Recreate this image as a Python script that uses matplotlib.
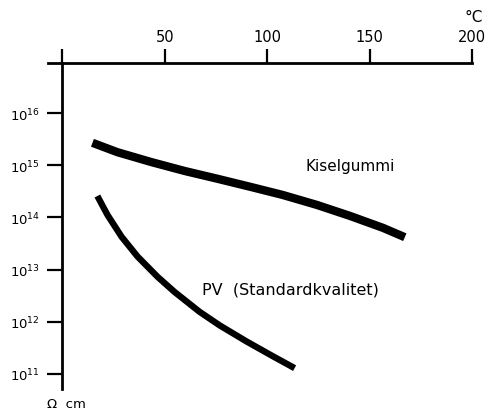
import matplotlib.pyplot as plt
import numpy as np

# temperature (degC) and log10 resistivity (ohm cm)
kisel_temp = [14.7, 26.9, 43.5, 59.7, 75.8, 92.4, 107.6, 124.2, 140.3, 156.5, 167.2]
kisel_log = [15.43, 15.25, 15.06, 14.89, 14.74, 14.58, 14.43, 14.24, 14.03, 13.80, 13.62]

pv_temp = [17.1, 22.0, 28.9, 36.7, 46.5, 54.8, 67.0, 76.8, 90.0, 102.7, 113.4]
pv_log = [14.41, 14.05, 13.63, 13.25, 12.86, 12.57, 12.19, 11.93, 11.62, 11.34, 11.11]

xticks = [0, 50, 100, 150, 200]
xlabels = ["", "50", "100", "150", "200"]
yexp = [11, 12, 13, 14, 15, 16]

fig = plt.figure(figsize=(4.86, 4.14), dpi=100)
ax = fig.add_axes([48 / 486, 1 - 390 / 414, (472 - 48) / 486, (390 - 64) / 414])

ax.plot(kisel_temp, 10 ** np.array(kisel_log), color="black", lw=6,
        solid_capstyle="butt", solid_joinstyle="round")
ax.plot(pv_temp, 10 ** np.array(pv_log), color="black", lw=4.6,
        solid_capstyle="butt", solid_joinstyle="round")

ax.set_yscale("log")
ax.set_xlim(-7, 200)
ax.set_ylim(10 ** 10.71, 10 ** 16.96)

ax.spines["bottom"].set_visible(False)
ax.spines["right"].set_visible(False)
ax.spines["left"].set_position(("data", 0))
ax.spines["left"].set_linewidth(2)
ax.spines["top"].set_linewidth(2)

ax.xaxis.tick_top()
ax.set_xticks(xticks)
ax.set_xticklabels(xlabels, fontsize=10.5)
ax.tick_params(axis="x", direction="out", length=10, width=1.6, pad=4)

ax.set_yticks([10.0 ** e for e in yexp])
ax.set_yticklabels(["$10^{%d}$" % e for e in yexp], fontsize=9.5)
ax.minorticks_off()
ax.tick_params(axis="y", direction="out", length=11, width=1.6, pad=5)

ax.text(118.8, 10 ** 15.0, "Kiselgummi", fontsize=11, va="center")
ax.text(68, 10 ** 12.63, "PV  (Standardkvalitet)", fontsize=11.5, va="center")

fig.text(474 / 486, 1 - 17 / 414, "°C", fontsize=11, ha="center", va="center")
fig.text(66 / 486, 1 - 405 / 414, "Ω  cm", fontsize=9.5, ha="center", va="center")

fig.savefig("out.png", dpi=100)
